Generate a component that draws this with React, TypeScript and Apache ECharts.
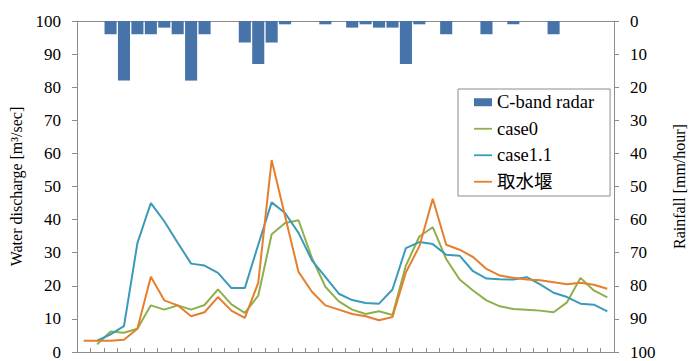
import React, { useEffect, useRef } from "react";
import * as echarts from "echarts";

const categories: string[] = Array.from({ length: 40 }, (_, i) => String(i + 1));

const rainfall: number[] = [
  0, 0, 4, 18, 4, 4, 2, 4, 18, 4,
  0, 0, 6.5, 13, 6.5, 1, 0, 0, 1, 0,
  2, 1, 2, 2, 13, 1, 0, 4, 0, 0,
  4, 0, 1, 0, 0, 4, 0, 0, 0, 0,
];

const case0: (number | null)[] = [
  null, 2.3, 6.2, 5.8, 7.0, 14.1, 12.8, 14.1, 12.8, 14.2,
  18.9, 14.4, 11.8, 17.0, 35.6, 39.0, 39.8, 28.4, 19.7, 15.3,
  12.8, 11.5, 12.3, 11.2, 26.1, 34.9, 37.7, 28.1, 21.9, 18.6,
  15.6, 13.8, 13.0, 12.8, 12.5, 12.0, 15.0, 22.4, 18.6, 16.5,
];

const case11: (number | null)[] = [
  null, 3.4, 5.3, 7.8, 32.9, 45.0, 39.5, 33.0, 26.7, 26.1,
  23.9, 19.3, 19.3, 32.4, 45.2, 42.0, 36.0, 27.7, 22.7, 17.6,
  15.7, 14.8, 14.6, 18.9, 31.4, 33.2, 32.6, 29.4, 29.1, 24.4,
  22.2, 22.0, 21.9, 22.6, 20.4, 17.9, 16.6, 14.6, 14.3, 12.3,
];

const intake: number[] = [
  3.4, 3.4, 3.4, 3.7, 7.0, 22.7, 15.6, 14.1, 10.8, 12.0,
  16.6, 12.5, 10.3, 20.9, 58.0, 41.0, 24.2, 18.2, 14.1, 12.8,
  11.5, 10.8, 9.6, 10.6, 24.1, 31.9, 46.3, 32.4, 30.9, 28.7,
  25.1, 23.1, 22.4, 21.9, 21.7, 21.1, 20.5, 20.9, 20.3, 19.1,
];

const seriesNames = ["C-band radar", "case0", "case1.1", "取水堰"];
const FONT = "Liberation Serif";
const AXIS_GRAY = "#8c8c8c";
const LINE_ICON = "path://M0,0H40V4H0Z";

export default function App() {
  const ref = useRef<HTMLDivElement>(null);
  useEffect(() => {
    if (!ref.current) return;
    const chart = echarts.init(ref.current, null, { renderer: "svg" });
    const labelStyle = { fontFamily: FONT, fontSize: 17, color: "#000" };
    chart.setOption({
      animation: false,
      backgroundColor: "#ffffff",
      textStyle: { fontFamily: FONT },
      grid: { left: 72, right: 78, top: 21, bottom: 9, containLabel: false },
      legend: {
        orient: "vertical",
        left: 458,
        top: 89,
        data: [
          { name: seriesNames[0], icon: "rect" },
          { name: seriesNames[1], icon: LINE_ICON },
          { name: seriesNames[2], icon: LINE_ICON },
          { name: seriesNames[3], icon: LINE_ICON },
        ],
        itemWidth: 18,
        itemHeight: 8,
        itemGap: 8,
        padding: [4, 16, 5, 16],
        borderColor: AXIS_GRAY,
        borderWidth: 1,
        backgroundColor: "#ffffff",
        textStyle: { fontFamily: "Liberation Serif, Noto Sans CJK JP", fontSize: 18.5, color: "#000" },
      },
      xAxis: [
        {
          type: "category",
          data: categories,
          boundaryGap: true,
          position: "bottom",
          axisLine: { lineStyle: { color: AXIS_GRAY, width: 1 } },
          axisTick: { show: true, inside: true, length: 4, interval: 0, lineStyle: { color: AXIS_GRAY } },
          axisLabel: { show: false },
          splitLine: { show: false },
        },
        {
          type: "category",
          data: categories,
          position: "top",
          axisLine: { show: true, lineStyle: { color: AXIS_GRAY, width: 1 } },
          axisTick: { show: false },
          axisLabel: { show: false },
        },
      ],
      yAxis: [
        {
          type: "value",
          min: 0,
          max: 100,
          interval: 10,
          position: "left",
          name: "Water discharge [m³/sec]",
          nameLocation: "middle",
          nameRotate: 90,
          nameGap: 53,
          nameTextStyle: { fontFamily: FONT, fontSize: 16, color: "#000" },
          axisLine: { show: true, lineStyle: { color: AXIS_GRAY } },
          axisTick: { show: true, length: 5, lineStyle: { color: AXIS_GRAY } },
          axisLabel: { ...labelStyle, margin: 16 },
          splitLine: { show: false },
        },
        {
          type: "value",
          min: 0,
          max: 100,
          interval: 10,
          inverse: true,
          position: "right",
          name: "Rainfall [mm/hour]",
          nameLocation: "middle",
          nameRotate: 90,
          nameGap: 57,
          nameTextStyle: { fontFamily: FONT, fontSize: 16, color: "#000" },
          axisLine: { show: true, lineStyle: { color: AXIS_GRAY } },
          axisTick: { show: true, length: 5, lineStyle: { color: AXIS_GRAY } },
          axisLabel: { ...labelStyle, margin: 16 },
          splitLine: { show: false },
        },
      ],
      series: [
        {
          name: seriesNames[0],
          type: "bar",
          xAxisIndex: 0,
          yAxisIndex: 1,
          data: rainfall,
          barCategoryGap: "10%",
          itemStyle: { color: "#4674a9" },
        },
        {
          name: seriesNames[1],
          type: "line",
          yAxisIndex: 0,
          data: case0,
          symbol: "none",
          lineStyle: { color: "#8db04b", width: 2 },
          itemStyle: { color: "#8db04b" },
          z: 3,
        },
        {
          name: seriesNames[2],
          type: "line",
          yAxisIndex: 0,
          data: case11,
          symbol: "none",
          lineStyle: { color: "#3b9ab9", width: 2 },
          itemStyle: { color: "#3b9ab9" },
          z: 4,
        },
        {
          name: seriesNames[3],
          type: "line",
          yAxisIndex: 0,
          data: intake,
          symbol: "none",
          lineStyle: { color: "#e57f2e", width: 2 },
          itemStyle: { color: "#e57f2e" },
          z: 5,
        },
      ],
    });
    return () => chart.dispose();
  }, []);
  return (
    <div
      ref={ref}
      style={{ position: "fixed", left: 0, top: 0, width: 695, height: 361, background: "#fff" }}
    />
  );
}
